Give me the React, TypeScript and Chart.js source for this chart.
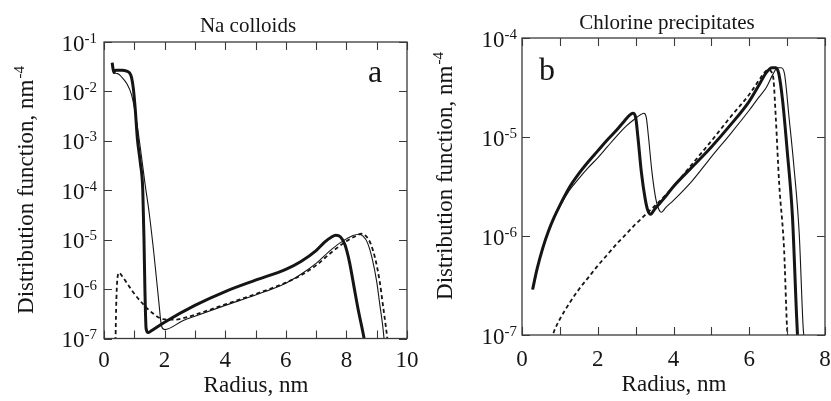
import React, { useEffect, useRef } from "react";
import { Chart, registerables } from "chart.js";

Chart.register(...registerables);

const FONT = '"Liberation Serif", "Times New Roman", serif';
const INK = "#151515";

// ---------- Panel a: Na colloids (x: radius nm, y: log10 of distribution function) ----------
const naThickX = [0.27, 0.3, 0.33, 0.36, 0.4, 0.6, 0.75, 0.85, 0.91, 0.97, 1.03, 1.1, 1.2, 1.28, 1.32, 1.35, 1.39, 1.46, 1.55, 2, 3, 4, 5, 6, 6.5, 7, 7.3, 7.5, 7.65, 7.8, 7.95, 8.1, 8.25, 8.4, 8.52, 8.6];
const naThickLog = [-1.42, -1.55, -1.62, -1.58, -1.57, -1.57, -1.59, -1.63, -1.72, -1.95, -2.35, -2.95, -3.45, -4.0, -5.0, -6.0, -6.8, -6.88, -6.85, -6.67, -6.33, -6.05, -5.82, -5.6, -5.44, -5.22, -5.04, -4.95, -4.91, -4.94, -5.1, -5.45, -5.95, -6.45, -6.8, -7.05];

const naThinX = [0.27, 0.3, 0.33, 0.45, 0.6, 0.75, 0.91, 1.05, 1.19, 1.35, 1.5, 1.65, 1.8, 1.9, 2.0, 2.6, 3, 4, 5, 6, 6.5, 7, 7.5, 7.9, 8.2, 8.4, 8.55, 8.7, 8.85, 9.0, 9.1, 9.2, 9.25];
const naThinLog = [-1.42, -1.55, -1.62, -1.64, -1.72, -1.84, -2.07, -2.5, -3.1, -3.85, -4.5, -5.3, -6.2, -6.75, -6.82, -6.64, -6.55, -6.33, -6.12, -5.88, -5.7, -5.48, -5.2, -5.02, -4.92, -4.89, -4.93, -5.07, -5.38, -5.85, -6.3, -6.75, -7.05];

const naDashX = [0.38, 0.4, 0.44, 0.5, 0.6, 0.75, 0.97, 1.3, 1.63, 1.96, 2.3, 2.6, 3, 4, 5, 6, 6.5, 7, 7.5, 8.0, 8.3, 8.5, 8.65, 8.8, 8.95, 9.1, 9.2, 9.3, 9.36];
const naDashLog = [-7.05, -6.4, -5.8, -5.67, -5.74, -5.87, -6.07, -6.31, -6.5, -6.61, -6.62, -6.59, -6.52, -6.31, -6.1, -5.87, -5.72, -5.52, -5.26, -5.03, -4.93, -4.88, -4.93, -5.08, -5.38, -5.85, -6.3, -6.75, -7.05];

// ---------- Panel b: Chlorine precipitates ----------
const clThickX = [0.28, 0.4, 0.55, 0.7, 0.85, 1.0, 1.25, 1.5, 1.75, 2.0, 2.25, 2.5, 2.7, 2.84, 2.93, 3.0, 3.06, 3.15, 3.25, 3.32, 3.4, 3.5, 3.75, 4.0, 4.5, 5.0, 5.5, 6.0, 6.25, 6.45, 6.6, 6.7, 6.78, 6.88, 7.0, 7.14, 7.25, 7.28];
const clThickLog = [-6.54, -6.33, -6.12, -5.95, -5.81, -5.69, -5.51, -5.37, -5.25, -5.14, -5.03, -4.93, -4.84, -4.78, -4.76, -4.8, -5.0, -5.35, -5.62, -5.74, -5.78, -5.73, -5.62, -5.5, -5.3, -5.1, -4.88, -4.64, -4.48, -4.35, -4.3, -4.3, -4.36, -4.63, -5.13, -5.8, -6.81, -7.05];

const clThinX = [0.28, 0.4, 0.55, 0.7, 0.85, 1.0, 1.25, 1.5, 1.75, 2.0, 2.25, 2.5, 2.75, 3.0, 3.15, 3.22, 3.28, 3.34, 3.43, 3.53, 3.6, 3.68, 3.8, 4.0, 4.5, 5.0, 5.5, 6.0, 6.25, 6.45, 6.62, 6.75, 6.84, 6.93, 7.05, 7.18, 7.32, 7.42, 7.45];
const clThinLog = [-6.54, -6.33, -6.12, -5.95, -5.82, -5.7, -5.54, -5.42, -5.31, -5.21, -5.1, -4.99, -4.89, -4.81, -4.77, -4.76, -4.8, -5.0, -5.35, -5.62, -5.72, -5.76, -5.71, -5.64, -5.44, -5.2, -4.97, -4.73, -4.6, -4.5, -4.37, -4.3, -4.3, -4.36, -4.8, -5.3, -5.98, -6.9, -7.05];

const clDashX = [0.77, 0.85, 1.0, 1.25, 1.5, 1.75, 2.0, 2.25, 2.5, 2.75, 3.0, 3.3, 3.63, 4.0, 4.5, 5.0, 5.5, 6.0, 6.25, 6.4, 6.5, 6.58, 6.64, 6.7, 6.79, 6.92, 7.0, 7.02];
const clDashLog = [-7.05, -6.96, -6.84, -6.68, -6.54, -6.42, -6.3, -6.19, -6.08, -5.98, -5.88, -5.77, -5.65, -5.5, -5.27, -5.04, -4.8, -4.57, -4.43, -4.35, -4.32, -4.34, -4.42, -4.8, -5.47, -6.14, -6.95, -7.05];

// ---------- Tick labels ----------
const naXMajor = [0, 2, 4, 6, 8, 10];
const naXMinor = [1, 3, 5, 7, 9];
const naYExps = [-1, -2, -3, -4, -5, -6, -7];
const clXMajor = [0, 2, 4, 6, 8];
const clXMinor = [1, 3, 5, 7];
const clYExps = [-4, -5, -6, -7];

type Panel = {
  width: number;
  xMax: number;
  yMinExp: number;
  yMaxExp: number;
  xMajor: number[];
  xMinor: number[];
  yExps: number[];
  title: string;
  titleX: number;
  titleY: number;
  letter: string;
  letterX: number;
  letterY: number;
  yTitleBaseX: number;
  yTitleCenterY: number;
  xTitleX: number;
  xTitleY: number;
  xTickBase: number;
  yTickRight: number;
  padTop: number;
  padRight: number;
  yAxisWidth: number;
  xAxisHeight: number;
  series: { xs: number[]; logs: number[]; kind: "thick" | "thin" | "dash" }[];
};

const PANEL_A: Panel = {
  width: 440,
  xMax: 10,
  yMinExp: -7,
  yMaxExp: -1,
  xMajor: naXMajor,
  xMinor: naXMinor,
  yExps: naYExps,
  title: "Na colloids",
  titleX: 248,
  titleY: 32,
  letter: "a",
  letterX: 375,
  letterY: 82,
  yTitleBaseX: 33,
  yTitleCenterY: 190,
  xTitleX: 256,
  xTitleY: 392,
  xTickBase: 367,
  yTickRight: 97,
  padTop: 42,
  padRight: 33,
  yAxisWidth: 104,
  xAxisHeight: 62.5,
  series: [
    { xs: naDashX, logs: naDashLog, kind: "dash" },
    { xs: naThinX, logs: naThinLog, kind: "thin" },
    { xs: naThickX, logs: naThickLog, kind: "thick" },
  ],
};

const PANEL_B: Panel = {
  width: 416,
  xMax: 8,
  yMinExp: -7,
  yMaxExp: -4,
  xMajor: clXMajor,
  xMinor: clXMinor,
  yExps: clYExps,
  title: "Chlorine precipitates",
  titleX: 252,
  titleY: 29,
  letter: "b",
  letterX: 132,
  letterY: 80,
  yTitleBaseX: 37,
  yTitleCenterY: 176,
  xTitleX: 259,
  xTitleY: 391,
  xTickBase: 366,
  yTickRight: 102,
  padTop: 38,
  padRight: 6,
  yAxisWidth: 107,
  xAxisHeight: 66,
  series: [
    { xs: clDashX, logs: clDashLog, kind: "dash" },
    { xs: clThinX, logs: clThinLog, kind: "thin" },
    { xs: clThickX, logs: clThickLog, kind: "thick" },
  ],
};

function decoPlugin(P: Panel) {
  return {
    id: "deco",
    afterDatasetsDraw(chart: any) {
      const ctx: CanvasRenderingContext2D = chart.ctx;
      const { left, right, top, bottom } = chart.chartArea;
      const xs = chart.scales.x;
      const ys = chart.scales.y;
      const TL = 8;
      ctx.save();
      // frame
      ctx.strokeStyle = "#3a3a3a";
      ctx.lineWidth = 1.3;
      ctx.strokeRect(left, top, right - left, bottom - top);
      // inward ticks on all four sides
      ctx.lineWidth = 1.1;
      ctx.beginPath();
      [...P.xMajor, ...P.xMinor].forEach((v) => {
        const px = Math.round(xs.getPixelForValue(v)) + 0.5;
        ctx.moveTo(px, bottom);
        ctx.lineTo(px, bottom - TL);
        ctx.moveTo(px, top);
        ctx.lineTo(px, top + TL);
      });
      P.yExps.forEach((e) => {
        const py = Math.round(ys.getPixelForValue(Math.pow(10, e))) + 0.5;
        ctx.moveTo(left, py);
        ctx.lineTo(left + TL, py);
        ctx.moveTo(right, py);
        ctx.lineTo(right - TL, py);
      });
      ctx.stroke();

      ctx.fillStyle = INK;
      // x tick labels
      ctx.font = `23px ${FONT}`;
      ctx.textAlign = "center";
      ctx.textBaseline = "alphabetic";
      P.xMajor.forEach((v) => {
        ctx.fillText(String(v), xs.getPixelForValue(v), P.xTickBase);
      });
      // y tick labels 10^e
      P.yExps.forEach((e) => {
        const py = ys.getPixelForValue(Math.pow(10, e));
        const sup = "-" + String(-e);
        ctx.font = `15px ${FONT}`;
        const ws = ctx.measureText(sup).width;
        ctx.textAlign = "left";
        ctx.fillText(sup, P.yTickRight - ws, py + 0.5);
        ctx.font = `23px ${FONT}`;
        ctx.textAlign = "right";
        ctx.fillText("10", P.yTickRight - ws, py + 8.5);
      });
      // title
      ctx.textAlign = "center";
      ctx.font = `21px ${FONT}`;
      ctx.fillText(P.title, P.titleX, P.titleY);
      // panel letter
      ctx.font = `32px ${FONT}`;
      ctx.fillText(P.letter, P.letterX, P.letterY);
      // x title
      ctx.font = `23px ${FONT}`;
      ctx.fillText("Radius, nm", P.xTitleX, P.xTitleY);
      // y title (rotated) with superscript
      const main = "Distribution function, nm";
      const sup = "-4";
      ctx.font = `23px ${FONT}`;
      const wm = ctx.measureText(main).width;
      ctx.font = `15px ${FONT}`;
      const wsu = ctx.measureText(sup).width;
      const total = wm + wsu + 1;
      ctx.translate(P.yTitleBaseX, P.yTitleCenterY);
      ctx.rotate(-Math.PI / 2);
      ctx.textAlign = "left";
      ctx.font = `23px ${FONT}`;
      ctx.fillText(main, -total / 2, 0);
      ctx.font = `15px ${FONT}`;
      ctx.fillText(sup, -total / 2 + wm + 1, -9);
      ctx.restore();
    },
  };
}

function buildConfig(P: Panel): any {
  const styles = {
    thick: { borderWidth: 3, borderDash: [] as number[] },
    thin: { borderWidth: 1.1, borderDash: [] as number[] },
    dash: { borderWidth: 1.8, borderDash: [4, 3] },
  };
  return {
    type: "line",
    data: {
      datasets: P.series.map((s) => ({
        data: s.xs.map((x, i) => ({ x, y: Math.pow(10, s.logs[i]) })),
        borderColor: INK,
        borderWidth: styles[s.kind].borderWidth,
        borderDash: styles[s.kind].borderDash,
        pointRadius: 0,
        fill: false,
        cubicInterpolationMode: "monotone",
        clip: 0,
        borderJoinStyle: "round",
      })),
    },
    options: {
      animation: false,
      responsive: false,
      maintainAspectRatio: false,
      events: [],
      layout: { padding: { top: P.padTop, right: P.padRight, left: 0, bottom: 0 } },
      plugins: {
        legend: { display: false },
        tooltip: { enabled: false },
        title: { display: false },
      },
      scales: {
        x: {
          type: "linear",
          min: 0,
          max: P.xMax,
          ticks: { display: false },
          grid: { display: false },
          border: { display: false },
          afterFit: (s: any) => {
            s.height = P.xAxisHeight;
          },
        },
        y: {
          type: "logarithmic",
          min: Math.pow(10, P.yMinExp),
          max: Math.pow(10, P.yMaxExp),
          ticks: { display: false },
          grid: { display: false },
          border: { display: false },
          afterFit: (s: any) => {
            s.width = P.yAxisWidth;
          },
        },
      },
    },
    plugins: [decoPlugin(P)],
  };
}

function PanelChart({ panel, left }: { panel: Panel; left: number }) {
  const ref = useRef<HTMLCanvasElement | null>(null);
  useEffect(() => {
    if (!ref.current) return;
    const chart = new Chart(ref.current, buildConfig(panel));
    return () => chart.destroy();
  }, [panel]);
  return (
    <canvas
      ref={ref}
      width={panel.width}
      height={401}
      style={{ position: "absolute", left, top: 0, width: panel.width, height: 401 }}
    />
  );
}

export default function App() {
  return (
    <div
      style={{
        position: "fixed",
        left: 0,
        top: 0,
        width: 831,
        height: 401,
        background: "#ffffff",
        overflow: "hidden",
      }}
    >
      <PanelChart panel={PANEL_A} left={0} />
      <PanelChart panel={PANEL_B} left={415} />
    </div>
  );
}
